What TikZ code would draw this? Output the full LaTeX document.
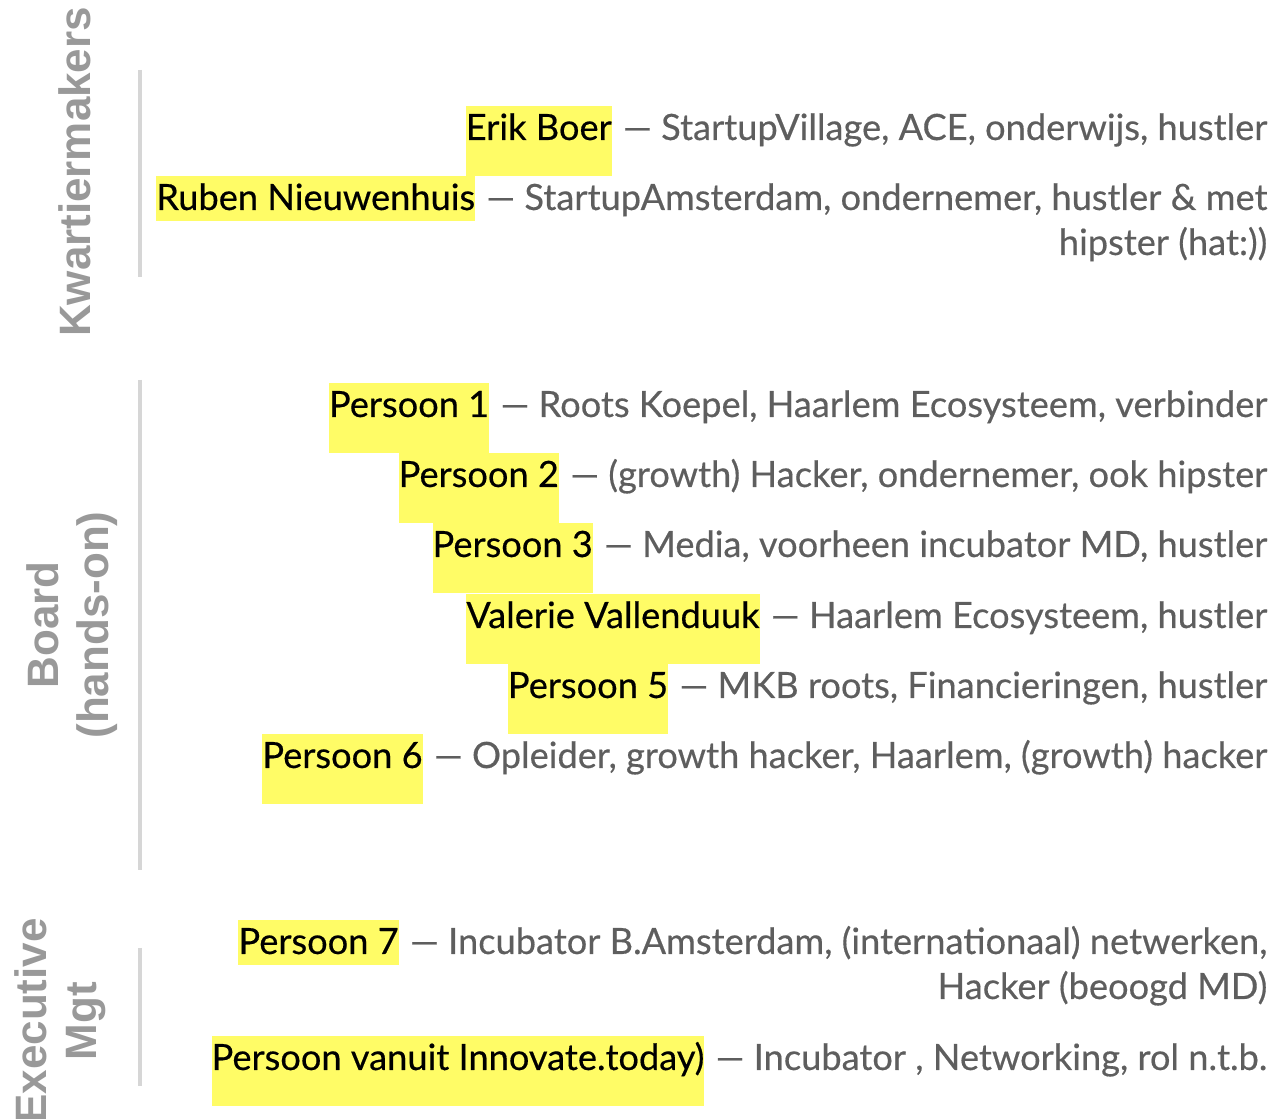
\documentclass[tikz,border=0pt]{standalone}
\usepackage{fontspec}
\setmainfont{Lato}[FakeBold=0.4]
\newfontfamily\labelfont{Liberation Sans}
\definecolor{markeer}{HTML}{FFFC66}
\definecolor{tekstgrijs}{HTML}{5E5E5E}
\definecolor{labelgrijs}{HTML}{999999}
\definecolor{balkgrijs}{HTML}{D6D6D6}

\begin{document}
\begin{tikzpicture}[x=0.01cm, y=-0.01cm,
    naam/.style={fill=markeer, inner sep=0pt, text=black, font=\fontsize{10.3}{12}\selectfont,
                 text height=0.34cm, text depth=0.36cm},
    laag/.style={text depth=0.11cm},
    omschr/.style={inner sep=0pt, text=tekstgrijs, font=\fontsize{10.3}{12}\selectfont},
    groep/.style={rotate=90, align=center, text=labelgrijs,
                  font=\labelfont\bfseries\fontsize{12.5}{14.2}\selectfont},
    balk/.style={balkgrijs, line width=0.04cm}]
    \def\lid#1#2#3#4#5{
        \node[omschr, anchor=base east] (#1-d) at (1268,#2) {— #4};
        \node[naam, #5, anchor=base east] (#1) at ([xshift=-0.1cm]#1-d.base west) {#3};
    }
    \useasboundingbox (0,0) rectangle (1275,1119);

    % Kwartiermakers
    \node[groep] (kwartier) at (75,172) {Kwartiermakers};
    \draw[balk] (140,70) -- (140,277);
    \lid{erik}{140}{Erik Boer}{StartupVillage, ACE, onderwijs, hustler}{}
    \lid{ruben}{210}{Ruben Nieuwenhuis}{StartupAmsterdam, ondernemer, hustler \& met}{laag}
    \node[omschr, anchor=base east] (ruben-d2) at (1268,255) {hipster (hat:))};

    % Board
    \node[groep] (board) at (72,625) {Board\\(hands-on)};
    \draw[balk] (140,380) -- (140,870);
    \lid{p1}{417}{Persoon 1}{Roots Koepel, Haarlem Ecosysteem, verbinder}{}
    \lid{p2}{487}{Persoon 2}{(growth) Hacker, ondernemer, ook hipster}{}
    \lid{p3}{557}{Persoon 3}{Media, voorheen incubator MD, hustler}{}
    \lid{valerie}{628}{Valerie Vallenduuk}{Haarlem Ecosysteem, hustler}{}
    \lid{p5}{698}{Persoon 5}{MKB roots, Financieringen, hustler}{}
    \lid{p6}{768}{Persoon 6}{Opleider, growth hacker, Haarlem, (growth) hacker}{}

    % Executive Mgt
    \node[groep] (exec) at (60,1021) {Executive\\Mgt};
    \draw[balk] (140,948) -- (140,1086);
    \lid{p7}{954}{Persoon 7}{Incubator B.Amsterdam, (internationaal) netwerken,}{laag}
    \node[omschr, anchor=base east] (p7-d2) at (1268,999) {Hacker (beoogd MD)};
    \lid{innovate}{1070}{Persoon vanuit Innovate.today)}{Incubator , Networking, rol n.t.b.}{}
\end{tikzpicture}
\end{document}
